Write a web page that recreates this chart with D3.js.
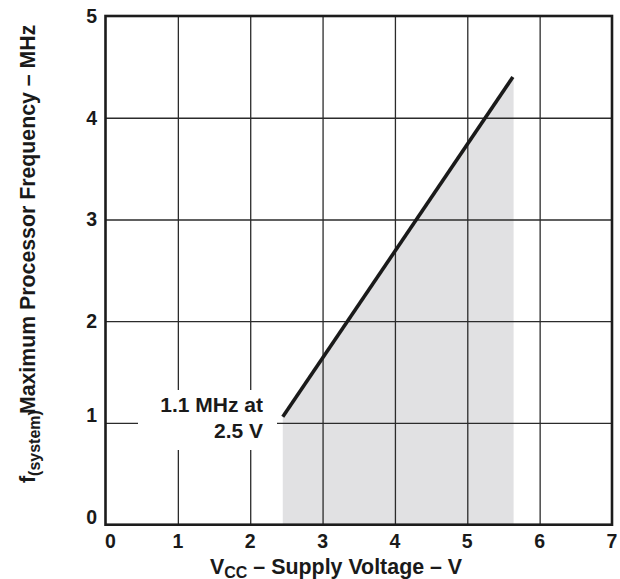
<!DOCTYPE html>
<html>
<head>
<meta charset="utf-8">
<script src="https://cdn.jsdelivr.net/npm/d3@7"></script>
<style>
  html, body { margin: 0; padding: 0; background: #fff; }
  svg { display: block; font-family: "Liberation Sans", Arial, Helvetica, sans-serif; font-weight: bold; }
</style>
</head>
<body>
<svg id="chart" width="620" height="579"></svg>
<script>
// ---- data ----
const xTicks = [0, 1, 2, 3, 4, 5, 6, 7];
const yTicks = [0, 1, 2, 3, 4, 5];
const xTickLabels = ["0", "1", "2", "3", "4", "5", "6", "7"];
const yTickLabels = ["0", "1", "2", "3", "4", "5"];
const lineVoltage = [2.45, 5.63];      // V
const lineFrequency = [1.06, 4.40];    // MHz
const shadeVoltage = [2.45, 2.45, 5.64, 5.64];
const shadeFrequency = [0, 1.06, 4.40, 0];
const annotationLines = ["1.1 MHz at", "2.5 V"];

// ---- layout ----
const svg = d3.select("#chart");
const plotL = 105.5, plotR = 612, plotT = 16, plotB = 524.7;
const x = d3.scaleLinear().domain([0, 7]).range([plotL, plotR]);
const y = d3.scaleLinear().domain([0, 5]).range([plotB, plotT]);

// shaded region
const shadePts = shadeVoltage.map((v, i) => [x(v), y(shadeFrequency[i])]);
svg.append("path")
  .attr("d", d3.line()(shadePts) + "Z")
  .attr("fill", "#e1e1e3")
  .attr("stroke", "none");

// gridlines via axes
svg.append("g")
  .attr("transform", `translate(0,${plotB})`)
  .call(d3.axisBottom(x).tickValues(xTicks.slice(1, -1)).tickSize(-(plotB - plotT)).tickFormat(""))
  .call(g => g.select(".domain").remove())
  .call(g => g.selectAll("line").attr("stroke", "#2b2b2b").attr("stroke-width", 1.3));

svg.append("g")
  .attr("transform", `translate(${plotL},0)`)
  .call(d3.axisLeft(y).tickValues(yTicks.slice(1, -1)).tickSize(-(plotR - plotL)).tickFormat(""))
  .call(g => g.select(".domain").remove())
  .call(g => g.selectAll("line").attr("stroke", "#2b2b2b").attr("stroke-width", 1.3));

// white box behind annotation
svg.append("rect")
  .attr("x", 138).attr("y", 390)
  .attr("width", 139).attr("height", 60)
  .attr("fill", "#fff");

// frame
svg.append("rect")
  .attr("x", plotL).attr("y", plotT)
  .attr("width", plotR - plotL).attr("height", plotB - plotT)
  .attr("fill", "none")
  .attr("stroke", "#1c1c1c")
  .attr("stroke-width", 2.6);

// frequency line
const linePts = lineVoltage.map((v, i) => [x(v), y(lineFrequency[i])]);
svg.append("path")
  .attr("d", d3.line()(linePts))
  .attr("fill", "none")
  .attr("stroke", "#1a1a1a")
  .attr("stroke-width", 3.6);

// tick labels
svg.append("g").selectAll("text")
  .data(xTicks)
  .join("text")
  .attr("x", d => x(d) + (d === 0 ? 5 : 0))
  .attr("y", 548)
  .attr("text-anchor", "middle")
  .attr("font-size", 19.5)
  .attr("fill", "#1a1a1a")
  .text((d, i) => xTickLabels[i]);

svg.append("g").selectAll("text")
  .data(yTicks)
  .join("text")
  .attr("x", 97)
  .attr("y", d => y(d) + (d <= 1 ? -1 : 7))
  .attr("text-anchor", "end")
  .attr("font-size", 19.5)
  .attr("fill", "#1a1a1a")
  .text((d, i) => yTickLabels[i]);

// annotation
svg.append("g").selectAll("text")
  .data(annotationLines)
  .join("text")
  .attr("x", 263)
  .attr("y", (d, i) => 411.7 + i * 26.6)
  .attr("text-anchor", "end")
  .attr("font-size", 21)
  .attr("fill", "#1a1a1a")
  .text(d => d);

// x axis title
const xt = svg.append("text")
  .attr("x", 210).attr("y", 574)
  .attr("font-size", 21.4)
  .attr("fill", "#1a1a1a");
xt.append("tspan").text("V");
xt.append("tspan").attr("font-size", 16).attr("dy", 3.5).text("CC");
xt.append("tspan").attr("dy", -3.5).text(" – Supply Voltage – V");

// y axis title
const yt = svg.append("text")
  .attr("transform", "translate(35,483) rotate(-90)")
  .attr("x", 0).attr("y", 0)
  .attr("font-size", 21.3)
  .attr("fill", "#1a1a1a");
yt.append("tspan").text("f");
yt.append("tspan").attr("font-size", 16).attr("dy", 5).text("(system)");
yt.append("tspan").attr("dy", -5).attr("dx", -4).text("Maximum Processor Frequency – MHz");
</script>
</body>
</html>
